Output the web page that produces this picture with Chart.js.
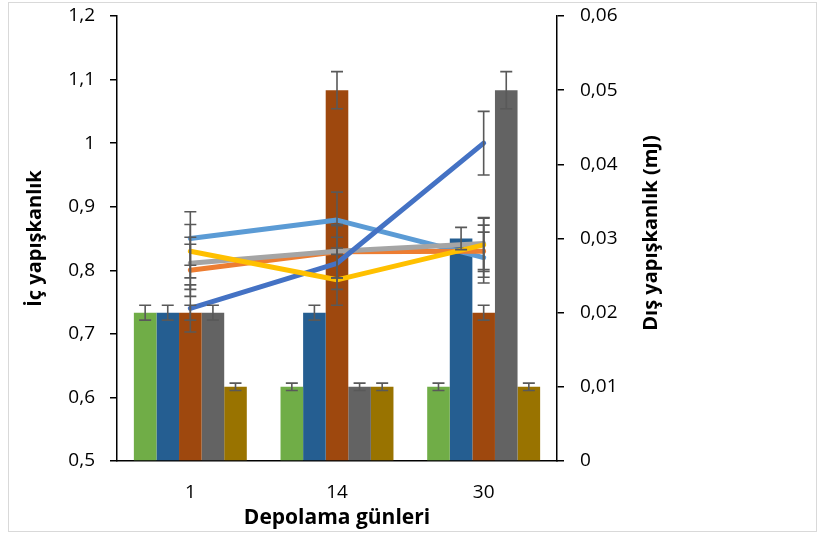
<!DOCTYPE html>
<html>
<head>
<meta charset="utf-8">
<script src="https://cdn.jsdelivr.net/npm/chart.js@4"></script>
<style>
html,body{margin:0;padding:0;background:#fff;}
#wrap{width:822px;height:537px;position:relative;}
</style>
</head>
<body>
<div id="wrap"><canvas id="c" width="822" height="537"></canvas></div>
<script>
// ---- data ----
const categories = ['1', '14', '30'];

// bars (right axis, Dış yapışkanlık mJ)
const barGreen  = [0.02, 0.01, 0.01];
const barBlue   = [0.02, 0.02, 0.03];
const barBrown  = [0.02, 0.05, 0.02];
const barGray   = [0.02, 0.01, 0.05];
const barOlive  = [0.01, 0.01, 0.01];
const errGreen  = [0.001, 0.0005, 0.0005];
const errBlue   = [0.001, 0.001, 0.0015];
const errBrown  = [0.001, 0.0025, 0.001];
const errGray   = [0.001, 0.0005, 0.0025];
const errOlive  = [0.0005, 0.0005, 0.0005];

// lines (left axis, İç yapışkanlık)
const lineLightBlue = [0.850, 0.879, 0.820];
const lineDarkBlue  = [0.740, 0.811, 1.000];
const lineOrange    = [0.800, 0.829, 0.830];
const lineGray      = [0.811, 0.830, 0.842];
const lineYellow    = [0.830, 0.785, 0.840];
const errLightBlue  = [0.042, 0.044, 0.040];
const errDarkBlue   = [0.037, 0.041, 0.050];
const errOrange     = [0.041, 0.041, 0.041];
const errGrayL      = [0.041, 0.042, 0.041];
const errYellow     = [0.042, 0.040, 0.042];

const leftTicks  = [0.5, 0.6, 0.7, 0.8, 0.9, 1.0, 1.1, 1.2];
const rightTicks = [0, 0.01, 0.02, 0.03, 0.04, 0.05, 0.06];

const FONT = "'Open Sans', 'Noto Sans', sans-serif";

function lineDs(label, data, err, color, order) {
  return {type: 'line', label, data, errors: err, yAxisID: 'y', order: order,
    borderColor: color, backgroundColor: color, borderWidth: 5,
    pointRadius: 0, pointHoverRadius: 0, tension: 0, borderCapStyle: 'round', borderJoinStyle: 'round'};
}
function barDs(label, data, err, color) {
  return {type: 'bar', label, data, errors: err, yAxisID: 'y1', order: 10,
    backgroundColor: color, borderWidth: 0,
    barPercentage: 1.0, categoryPercentage: 0.77};
}

const errorBarPlugin = {
  id: 'errbars',
  afterDatasetsDraw(chart) {
    const ctx = chart.ctx;
    ctx.save();
    ctx.strokeStyle = '#595959';
    ctx.lineWidth = 1.6;
    chart.data.datasets.forEach((ds, i) => {
      if (!ds.errors) return;
      const meta = chart.getDatasetMeta(i);
      const sc = chart.scales[meta.yAxisID];
      ds.data.forEach((v, j) => {
        const x = meta.data[j].x;
        const e = ds.errors[j];
        const yt = sc.getPixelForValue(v + e);
        const yb = sc.getPixelForValue(v - e);
        const hw = 6;
        ctx.beginPath();
        ctx.moveTo(x, yt); ctx.lineTo(x, yb);
        ctx.moveTo(x - hw, yt); ctx.lineTo(x + hw, yt);
        ctx.moveTo(x - hw, yb); ctx.lineTo(x + hw, yb);
        ctx.stroke();
      });
    });
    ctx.restore();
  }
};

const framePlugin = {
  id: 'frame',
  beforeDraw(chart) {
    const ctx = chart.ctx;
    ctx.save();
    ctx.fillStyle = '#fff';
    ctx.fillRect(0, 0, chart.width, chart.height);
    ctx.strokeStyle = '#D9D9D9';
    ctx.lineWidth = 1;
    ctx.strokeRect(8.5, 2.5, 808, 529);
    ctx.restore();
  },
  afterDraw(chart) {
    const ctx = chart.ctx;
    ctx.save();
    ctx.fillStyle = '#000';
    ctx.font = "bold 20px " + FONT;
    ctx.textAlign = 'center';
    ctx.textBaseline = 'middle';
    ctx.translate(651, 233);
    ctx.rotate(-Math.PI / 2);
    ctx.fillText('Dış yapışkanlık (mJ)', 0, 0);
    ctx.restore();
  }
};

function fmt(v, d) {
  const r = Math.round(v * Math.pow(10, d)) / Math.pow(10, d);
  return String(r).replace('.', ',');
}

new Chart(document.getElementById('c'), {
  data: {
    labels: categories,
    datasets: [
      lineDs('Seri A', lineLightBlue, errLightBlue, '#5B9BD5', 5),
      lineDs('Seri B', lineDarkBlue, errDarkBlue, '#4472C4', 2),
      lineDs('Seri C', lineOrange, errOrange, '#ED7D31', 4),
      lineDs('Seri D', lineGray, errGrayL, '#A5A5A5', 3),
      lineDs('Seri E', lineYellow, errYellow, '#FFC000', 1),
      barDs('Bar A', barGreen, errGreen, '#70AD47'),
      barDs('Bar B', barBlue, errBlue, '#255E91'),
      barDs('Bar C', barBrown, errBrown, '#9E480E'),
      barDs('Bar D', barGray, errGray, '#636363'),
      barDs('Bar E', barOlive, errOlive, '#997300')
    ]
  },
  options: {
    responsive: false,
    animation: false,
    events: [],
    layout: {padding: {top: 16, right: 155, bottom: 0, left: 0}},
    plugins: {legend: {display: false}, tooltip: {enabled: false}},
    scales: {
      x: {
        type: 'category',
        offset: true,
        grid: {display: false, drawTicks: false},
        border: {display: true, color: '#000', width: 1.5},
        ticks: {color: '#000', font: {family: FONT, size: 19}, padding: 20},
        title: {display: true, text: 'Depolama günleri', color: '#000',
          font: {family: FONT, size: 21, weight: 'bold'}, padding: {top: 0, bottom: 6}},
        afterFit(s) { s.height = 76; s.paddingLeft = 0; s.paddingRight = 0; }
      },
      y: {
        position: 'left',
        min: 0.5, max: 1.2,
        afterBuildTicks(s) { s.ticks = leftTicks.map(v => ({value: v})); },
        grid: {drawOnChartArea: false, drawTicks: true, tickLength: 7, color: '#000', lineWidth: 1.5},
        border: {display: true, color: '#000', width: 1.5},
        ticks: {color: '#000', font: {family: FONT, size: 19}, padding: 15,
          callback: v => fmt(v, 1)},
        title: {display: true, text: 'İç yapışkanlık', color: '#000',
          font: {family: FONT, size: 20, weight: 'bold'}, padding: {top: 23, bottom: 0}},
        afterFit(s) { s.width = 117; s.paddingTop = 0; s.paddingBottom = 0; }
      },
      y1: {
        position: 'right',
        min: 0, max: 0.06,
        afterBuildTicks(s) { s.ticks = rightTicks.map(v => ({value: v})); },
        grid: {drawOnChartArea: false, drawTicks: true, tickLength: 7, color: '#000', lineWidth: 1.5},
        border: {display: true, color: '#000', width: 1.5},
        ticks: {color: '#000', font: {family: FONT, size: 19}, padding: 16,
          callback: v => fmt(v, 2)},
        title: {display: false},
        afterFit(s) { s.width = 110; s.paddingTop = 0; s.paddingBottom = 0; }
      }
    }
  },
  plugins: [framePlugin, errorBarPlugin]
});
</script>
</body>
</html>
